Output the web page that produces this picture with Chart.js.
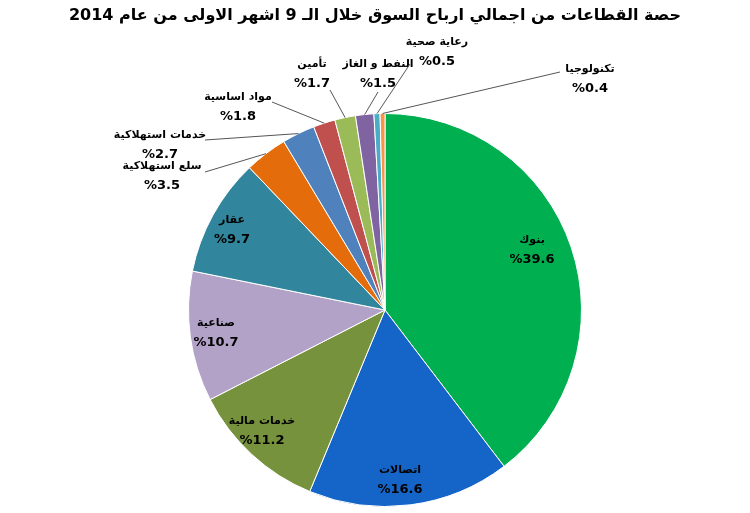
<!DOCTYPE html>
<html><head><meta charset="utf-8">
<script src="https://cdn.jsdelivr.net/npm/chart.js@4"></script>
<style>html,body{margin:0;padding:0;background:#fff}#c{display:block}</style>
</head><body>
<div style="width:750px;height:513px"><canvas id="c"></canvas></div>
<script>
const categories = ['بنوك','اتصالات','خدمات مالية','صناعية','عقار','سلع استهلاكية','خدمات استهلاكية','مواد اساسية','تأمين','النفط و الغاز','رعاية صحية','تكنولوجيا'];
const values = [39.6,16.6,11.2,10.7,9.7,3.5,2.7,1.8,1.7,1.5,0.5,0.4];
const labelTexts = ['%39.6','%16.6','%11.2','%10.7','%9.7','%3.5','%2.7','%1.8','%1.7','%1.5','%0.5','%0.4'];
const colors = ['#00B050','#1565C8','#76923C','#B3A2C7','#31859C','#E46C0A','#4F81BD','#C0504D','#9BBB59','#8064A2','#4BACC6','#F79646'];
// label anchor layout [x, y, outside]
const labelPos = [[532,250,0],[400,480,0],[262,431,0],[216,333,0],[232,230,0],
  [162,176,1],[160,145,1],[238,107,1],[312,74,1],[378,74,1],[437,52,1],[590,79,1]];
const lineEnds = [null,null,null,null,null,[205,172],[205,140],[272,102],[330,90],[378,92],[410,64],[560,72]];

const labelPlugin = {
  id:'lbl',
  afterDraw(chart){
    const ctx = chart.ctx;
    ctx.save();
    ctx.font = 'bold 16px "DejaVu Sans"';
    ctx.fillStyle = '#000'; ctx.textAlign='center'; ctx.textBaseline='middle';
    ctx.fillText('حصة القطاعات من اجمالي ارباح السوق خلال الـ 9 اشهر الاولى من عام 2014', 375, 16);
    const meta = chart.getDatasetMeta(0);
    meta.data.forEach((arc,i)=>{
      const [x,y,out] = labelPos[i];
      if(out){
        const mid=(arc.startAngle+arc.endAngle)/2;
        const ex=arc.x+Math.cos(mid)*arc.outerRadius, ey=arc.y+Math.sin(mid)*arc.outerRadius;
        const le=lineEnds[i];
        ctx.strokeStyle='#555'; ctx.lineWidth=1;
        ctx.beginPath(); ctx.moveTo(ex,ey); ctx.lineTo(le[0],le[1]); ctx.stroke();
      }
      ctx.fillStyle='#000';
      ctx.font='bold 11px "DejaVu Sans"';
      ctx.fillText(categories[i], x, y-10);
      ctx.font='bold 13px "DejaVu Sans"';
      ctx.fillText(labelTexts[i], x, y+10);
    });
    ctx.restore();
  }
};

new Chart(document.getElementById('c'),{
  type:'pie',
  data:{labels:categories,datasets:[{data:values,backgroundColor:colors,borderColor:'#fff',borderWidth:1}]},
  options:{responsive:true,maintainAspectRatio:false,animation:false,
    layout:{padding:{top:113,bottom:6,left:188,right:168}},
    plugins:{legend:{display:false},tooltip:{enabled:false}}},
  plugins:[labelPlugin]
});
</script>
</body></html>
